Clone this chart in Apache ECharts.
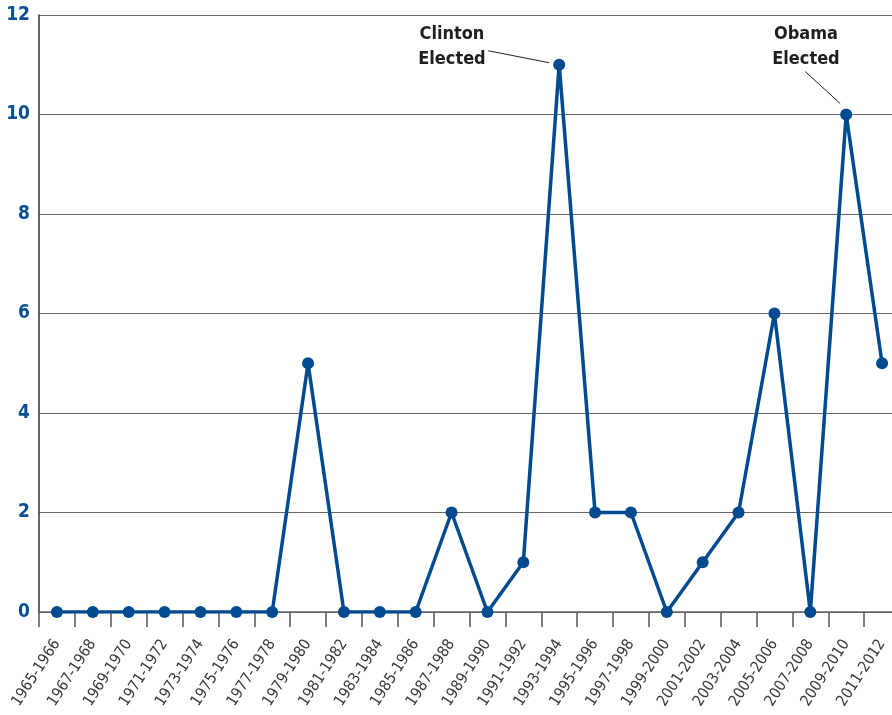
<!DOCTYPE html>
<html><head><meta charset="utf-8">
<script src="https://cdn.jsdelivr.net/npm/echarts@6/dist/echarts.min.js"></script>
<style>html,body{margin:0;padding:0;background:#fff;overflow:hidden}#c{width:892px;height:715px}</style>
</head><body><div id="c"></div>
<script>
var categories = ["1965-1966","1967-1968","1969-1970","1971-1972","1973-1974","1975-1976","1977-1978","1979-1980","1981-1982","1983-1984","1985-1986","1987-1988","1989-1990","1991-1992","1993-1994","1995-1996","1997-1998","1999-2000","2001-2002","2003-2004","2005-2006","2007-2008","2009-2010","2011-2012"];
var values = [0,0,0,0,0,0,0,5,0,0,0,2,0,1,11,2,2,0,1,2,6,0,10,5];
var yTicks = [0,2,4,6,8,10,12];
var annotations = [
  {text:"Clinton\nElected", idx:14, val:11},
  {text:"Obama\nElected", idx:22, val:10}
];
var BLUE = "#004a8f";
var condensed = "'Liberation Sans Narrow','DejaVu Sans Condensed','Roboto',sans-serif";
var chart = echarts.init(document.getElementById('c'));
chart.setOption({
  animation:false,
  grid:{left:39, top:15, height:597, width:861, containLabel:false, outerBoundsMode:'none'},
  xAxis:{
    type:'category', data:categories, boundaryGap:true,
    axisLine:{show:true, lineStyle:{color:'#666', width:1.5}},
    axisTick:{show:true, length:15, lineStyle:{color:'#555', width:1.5}, interval:0},
    axisLabel:{rotate:57, interval:0, color:'#3a3a3a', fontSize:15.5, fontFamily:condensed, margin:29}
  },
  yAxis:{
    type:'value', min:yTicks[0], max:yTicks[yTicks.length-1], interval:2,
    axisLine:{show:true, lineStyle:{color:'#333', width:1.5}},
    axisTick:{show:false},
    splitLine:{show:true, lineStyle:{color:'#666', width:1.2}},
    axisLabel:{color:'#0b4d91', fontSize:19, fontWeight:'bold', fontFamily:condensed, margin:9}
  },
  series:[{
    type:'line', data:values, symbol:'circle', symbolSize:12,
    lineStyle:{color:BLUE, width:3.5}, itemStyle:{color:BLUE}
  }]
});
var p1 = chart.convertToPixel({xAxisIndex:0,yAxisIndex:0},[annotations[0].idx, annotations[0].val]);
var p2 = chart.convertToPixel({xAxisIndex:0,yAxisIndex:0},[annotations[1].idx, annotations[1].val]);
var tstyle = {font:"bold 18px "+condensed, fill:'#1e1e1e', textAlign:'center', lineHeight:25};
chart.setOption({graphic:[
  {type:'text', left:p1[0]-110-31, top:p1[1]-43, style:Object.assign({text:annotations[0].text, width:62}, tstyle)},
  {type:'line', shape:{x1:p1[0]-71, y1:p1[1]-14, x2:p1[0]-10, y2:p1[1]-2}, style:{stroke:'#222', lineWidth:1}},
  {type:'text', left:p2[0]-43-31, top:p2[1]-93, style:Object.assign({text:annotations[1].text, width:62}, tstyle)},
  {type:'line', shape:{x1:p2[0]-41, y1:p2[1]-43, x2:p2[0]-6, y2:p2[1]-11}, style:{stroke:'#222', lineWidth:1}}
]});
</script></body></html>
